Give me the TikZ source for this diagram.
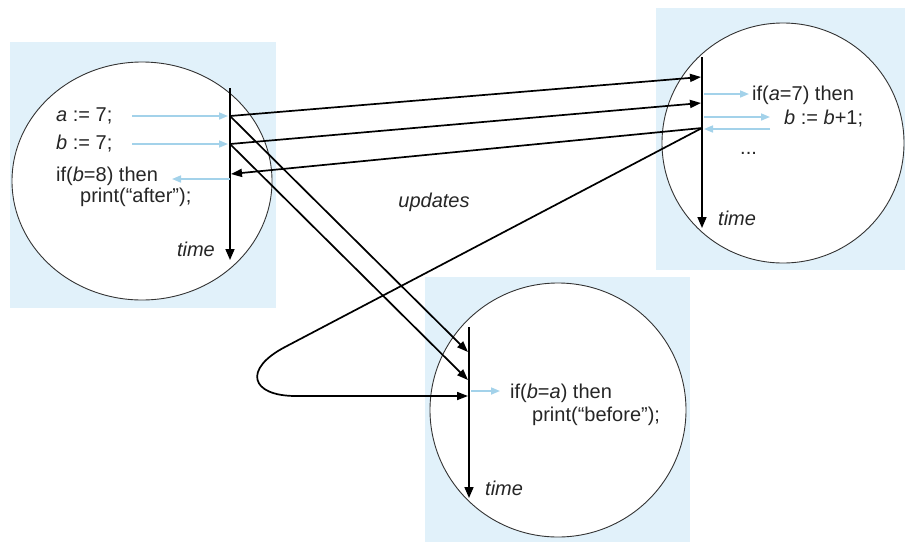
\documentclass[tikz,border=0pt]{standalone}
\usepackage{fontspec}
\setmainfont{Liberation Sans}
\usetikzlibrary{arrows.meta}
\definecolor{bgblue}{HTML}{E1F1FA}
\definecolor{arrblue}{HTML}{A3D2EA}
\definecolor{circ}{HTML}{333333}
\tikzset{
  panel/.style={fill=bgblue,draw=none},
  bubble/.style={fill=white,draw=circ,line width=0.9pt},
  timeline/.style={line width=1.6pt,-{Triangle[length=11pt,width=9pt]}},
  msg/.style={line width=1.7pt,-{Triangle[length=11pt,width=8pt]}},
  local/.style={arrblue,line width=1.6pt,-{Triangle[length=9pt,width=7pt]}},
  code/.style={font=\fontsize{20}{23}\selectfont,inner sep=0pt,anchor=west,text=black!85},
  lab/.style={font=\fontsize{20}{23}\selectfont\itshape,inner sep=0pt,text=black!85}
}
\begin{document}
\begin{tikzpicture}[x=1pt,y=-1pt]
\useasboundingbox (0,0) rectangle (905,542);
% panels
\fill[panel] (10,42) rectangle (276,308);
\fill[panel] (656,8) rectangle (905,270);
\fill[panel] (425,277) rectangle (690,542);
% circles
\draw[bubble] (142,181) ellipse [x radius=130pt, y radius=119pt];
\draw[bubble] (783,143) ellipse [x radius=121pt, y radius=120pt];
\draw[bubble] (558,410) ellipse [x radius=128pt, y radius=127pt];

% timelines
\coordinate (Ltop) at (230,88);  \coordinate (Lend) at (230,260);
\coordinate (Rtop) at (702,57);  \coordinate (Rend) at (702,228);
\coordinate (Btop) at (469,327); \coordinate (Bend) at (469,498);
\draw[timeline] (Ltop) -- (Lend);
\draw[timeline] (Rtop) -- (Rend);
\draw[timeline] (Btop) -- (Bend);

% event points
\coordinate (La) at (230,116);
\coordinate (Lb) at (230,144);
\coordinate (Lc) at (231,174);
\coordinate (Ra) at (701,77);
\coordinate (Rb) at (701,103);
\coordinate (Rc) at (702,128);
\coordinate (Ba) at (468,352);
\coordinate (Bb) at (468,380);
\coordinate (Bc) at (468,396);

% left texts
\node[code] (ta) at (56,116) {\textit{a} := 7;};
\node[code] (tb) at (56,144) {\textit{b} := 7;};
\node[code] (tif) at (56,176) {if(\textit{b}=8) then};
\node[code] (tpr) at (80,197) {print(“after”);};
\node[lab,anchor=east] (tL) at (215,249) {time};

% right texts
\node[code] (rif) at (752,95) {if(\textit{a}=7) then};
\node[code] (rb) at (784,119) {\textit{b} := \textit{b}+1;};
\node[code] (rdots) at (740,153) {...};
\node[lab,anchor=west] (tR) at (718,218) {time};

% bottom texts
\node[code] (bif) at (510,393) {if(\textit{b}=\textit{a}) then};
\node[code] (bpr) at (532,416) {print(“before”);};
\node[lab,anchor=west] (tB) at (485,488) {time};

\node[lab] (upd) at (434,202) {updates};

% local (light blue) arrows
\coordinate (lbs1) at (132,116); \coordinate (lbe1) at (228,116);
\coordinate (lbs2) at (132,144); \coordinate (lbe2) at (228,144);
\coordinate (lbs3) at (230,179); \coordinate (lbe3) at (172,179);
\draw[local] (lbs1) -- (lbe1);
\draw[local] (lbs2) -- (lbe2);
\draw[local] (lbs3) -- (lbe3);
\coordinate (rbs1) at (704,94);  \coordinate (rbe1) at (749,94);
\coordinate (rbs2) at (704,117); \coordinate (rbe2) at (770,117);
\coordinate (rbs3) at (770,129); \coordinate (rbe3) at (704,129);
\draw[local] (rbs1) -- (rbe1);
\draw[local] (rbs2) -- (rbe2);
\draw[local] (rbs3) -- (rbe3);
\coordinate (bbs1) at (471,391); \coordinate (bbe1) at (500,391);
\draw[local] (bbs1) -- (bbe1);

% update messages
\draw[msg] (La) -- (Ra);
\draw[msg] (Lb) -- (Rb);
\draw[msg] (Rc) -- (Lc);
\draw[msg] (La) -- (Ba);
\draw[msg] (Lb) -- (Bb);
\coordinate (loopA) at (285,347);
\coordinate (loopB) at (296,396);
\draw[msg] (Rc) -- (loopA) .. controls (243,369) and (250,396) .. (loopB) -- (Bc);
\end{tikzpicture}
\end{document}
